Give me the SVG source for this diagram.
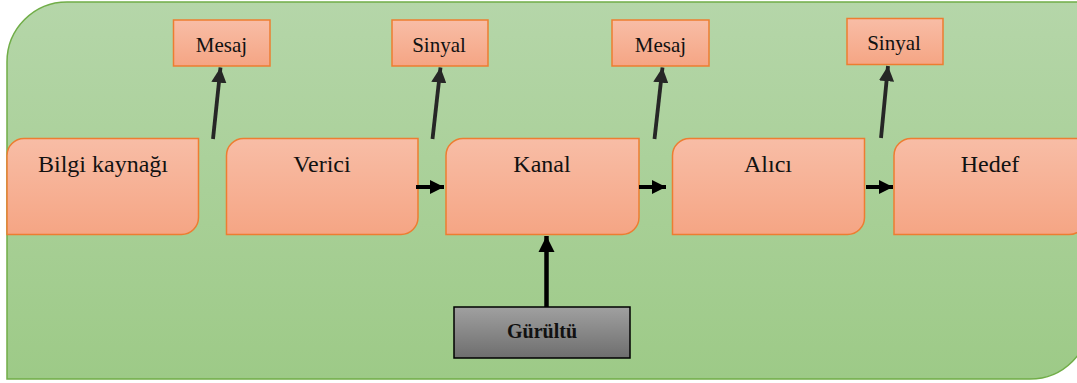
<svg xmlns="http://www.w3.org/2000/svg" width="1077" height="383" viewBox="0 0 1077 383">
<defs>
<linearGradient id="bg" x1="0" y1="0" x2="0" y2="1"><stop offset="0" stop-color="#b5d6a9"/><stop offset="1" stop-color="#9dca87"/></linearGradient>
<linearGradient id="og" x1="0" y1="0" x2="0" y2="1"><stop offset="0" stop-color="#f8bda6"/><stop offset="1" stop-color="#f5a584"/></linearGradient>
<linearGradient id="gg" x1="0" y1="0" x2="0" y2="1"><stop offset="0" stop-color="#a0a0a0"/><stop offset="1" stop-color="#6e6e6e"/></linearGradient>
<marker id="ah" viewBox="0 0 10 10" refX="10" refY="5" markerWidth="4.2" markerHeight="4.2" markerUnits="strokeWidth" orient="auto"><path d="M0,0 L10,5 L0,10 Z" fill="context-stroke"/></marker>
<marker id="ad" viewBox="0 0 10 10" refX="10" refY="5" markerWidth="4" markerHeight="4" markerUnits="strokeWidth" orient="auto"><path d="M0,0 L10,5 L0,10 Z" fill="#262626"/></marker>
<marker id="ab" viewBox="0 0 10 10" refX="10" refY="5" markerWidth="3.6" markerHeight="3.6" markerUnits="strokeWidth" orient="auto"><path d="M0,0 L10,5 L0,10 Z" fill="#000"/></marker>
</defs>
<style>
.box{fill:url(#og);stroke:#ed7d31;stroke-width:1.5}
.lbl{font-family:"Liberation Serif","Times New Roman",serif;font-size:24px;fill:#111;text-anchor:middle}
.sm{font-family:"Liberation Serif","Times New Roman",serif;font-size:21px;fill:#111;text-anchor:middle}
.up{stroke:#262626;stroke-width:3.8;fill:none;marker-end:url(#ad)}
.hz{stroke:#000;stroke-width:4;fill:none;marker-end:url(#ab)}
</style>
<path id="background" d="M7,62 A60,60 0 0 1 67,2 H1090 V319 A60,60 0 0 1 1030,379 H7 Z" fill="url(#bg)" stroke="#70ad47" stroke-width="1.5"/>
<g id="bilgi"><path class="box" d="M7,155.5 A17,17 0 0 1 24,138.5 H198.5 V217.5 A17,17 0 0 1 181.5,234.5 H7 Z"/><text class="lbl" x="103" y="172">Bilgi kaynağı</text></g>
<g id="verici"><path class="box" d="M226.5,155.5 A17,17 0 0 1 243.5,138.5 H418 V217.5 A17,17 0 0 1 401,234.5 H226.5 Z"/><text class="lbl" x="322" y="172">Verici</text></g>
<g id="kanal"><path class="box" d="M446,155.5 A17,17 0 0 1 463,138.5 H639 V217.5 A17,17 0 0 1 622,234.5 H446 Z"/><text class="lbl" x="542" y="172">Kanal</text></g>
<g id="alici"><path class="box" d="M672.5,155.5 A17,17 0 0 1 689.5,138.5 H864.5 V217.5 A17,17 0 0 1 847.5,234.5 H672.5 Z"/><text class="lbl" x="768" y="172">Alıcı</text></g>
<g id="hedef"><path class="box" d="M894,155.5 A17,17 0 0 1 911,138.5 H1086 V217.5 A17,17 0 0 1 1069,234.5 H894 Z"/><text class="lbl" x="990" y="172">Hedef</text></g>
<g id="mesaj1"><rect class="box" x="173.5" y="20" width="96.5" height="46"/><text class="sm" x="221.5" y="52">Mesaj</text></g>
<g id="sinyal1"><rect class="box" x="392" y="20" width="96" height="46"/><text class="sm" x="439" y="52">Sinyal</text></g>
<g id="mesaj2"><rect class="box" x="612" y="20" width="97" height="46"/><text class="sm" x="660.5" y="52">Mesaj</text></g>
<g id="sinyal2"><rect class="box" x="847" y="18.5" width="96" height="46"/><text class="sm" x="894" y="50">Sinyal</text></g>
<g id="gurultu"><rect x="454" y="307" width="176" height="51" fill="url(#gg)" stroke="#000" stroke-width="1.5"/><text x="542" y="338" font-family="'Liberation Serif','Times New Roman',serif" font-size="20" font-weight="bold" fill="#111" text-anchor="middle">Gürültü</text></g>
<g id="connectors">
<path class="up" d="M213,139 L220.5,67.5"/>
<path class="up" d="M432.5,139 L440.5,67.5"/>
<path class="up" d="M654.5,139 L662.5,67.5"/>
<path class="up" d="M881,138 L888,66"/>
<path class="hz" d="M416,187 L444,187"/>
<path class="hz" d="M639,187 L666,187"/>
<path class="hz" d="M866,187 L893,187"/>
<path d="M546.5,307 L546.5,236" stroke="#000" stroke-width="4.5" fill="none" marker-end="url(#ab)"/>
</g>
</svg>
